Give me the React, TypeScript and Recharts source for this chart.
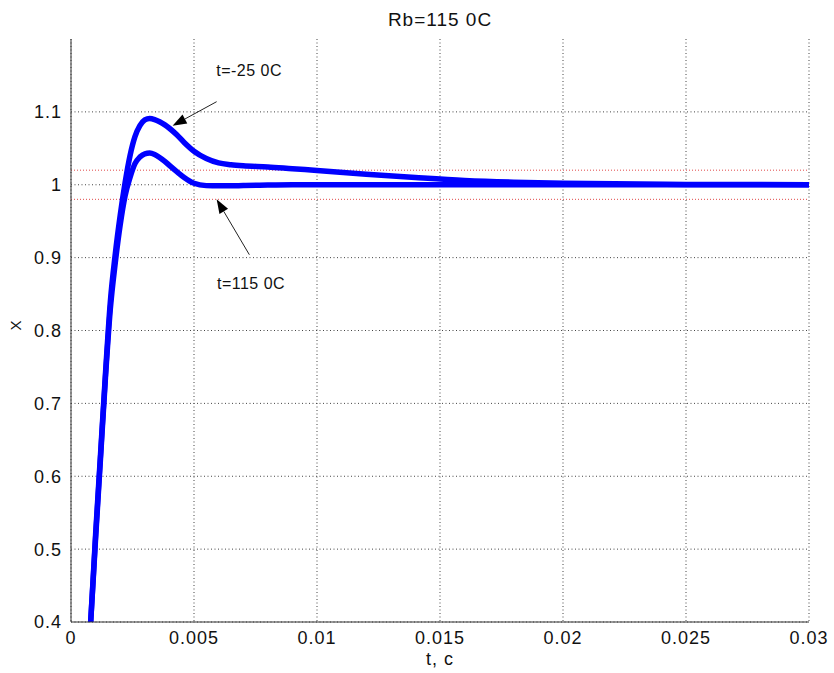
import {
  CartesianGrid,
  Line,
  LineChart,
  ReferenceDot,
  ReferenceLine,
  XAxis,
  YAxis,
} from "recharts";

// time, s
const tValues = [
  0.0007, 0.0008, 0.001, 0.0012, 0.0014, 0.0016, 0.0018, 0.002, 0.0022, 0.0024,
  0.0026, 0.0028, 0.003, 0.0032, 0.0034, 0.0036, 0.0038, 0.004, 0.0043, 0.0046,
  0.005, 0.0055, 0.006, 0.0065, 0.007, 0.008, 0.009, 0.01, 0.012, 0.014, 0.016,
  0.018, 0.02, 0.025, 0.03,
];
// t=-25 0C (upper curve)
const coldValues = [
  0.35, 0.4, 0.52, 0.63, 0.74, 0.84, 0.905, 0.958, 1.003, 1.04, 1.066, 1.081,
  1.089, 1.091, 1.0895, 1.0865, 1.0825, 1.0775, 1.0685, 1.058, 1.046, 1.036,
  1.03, 1.0275, 1.026, 1.0245, 1.022, 1.0196, 1.0145, 1.01, 1.006, 1.0035,
  1.002, 1.0005, 1.0,
];
// t=115 0C (lower curve)
const hotValues = [
  0.35, 0.4, 0.515, 0.625, 0.735, 0.83, 0.893, 0.945, 0.985, 1.01, 1.029, 1.038,
  1.0425, 1.0435, 1.0415, 1.0375, 1.0325, 1.0265, 1.018, 1.01, 1.002, 0.9988,
  0.9985, 0.9985, 0.999, 0.9995, 1.0, 1.0, 1.0, 1.0, 1.0, 1.0, 1.0, 1.0, 1.0,
];
const xTicks = [0, 0.005, 0.01, 0.015, 0.02, 0.025, 0.03];
const yTicks = [0.4, 0.5, 0.6, 0.7, 0.8, 0.9, 1, 1.1];
const bandLimits = [0.98, 1.02];

const data = tValues.map((t, i) => ({ t, cold: coldValues[i], hot: hotValues[i] }));

const FONT = "'Liberation Sans', Arial, sans-serif";

const Arrow = (p: any) => {
  const { x1, y1, x2, y2 } = p;
  const ang = Math.atan2(y2 - y1, x2 - x1);
  const len = 14;
  const half = 5;
  const bx = x2 - len * Math.cos(ang);
  const by = y2 - len * Math.sin(ang);
  const nx = -Math.sin(ang) * half;
  const ny = Math.cos(ang) * half;
  return (
    <g>
      <line x1={x1} y1={y1} x2={bx} y2={by} stroke="#222" strokeWidth={1} />
      <polygon
        points={`${x2},${y2} ${bx + nx},${by + ny} ${bx - nx},${by - ny}`}
        fill="#000"
      />
    </g>
  );
};

const note = (text: string) => (p: any) => (
  <text
    x={p.cx}
    y={p.cy}
    textAnchor="middle"
    dominantBaseline="central"
    fontFamily={FONT}
    fontSize={16}
    letterSpacing={0.5}
    fill="#111"
  >
    {text}
  </text>
);

const App = () => {
  return (
    <div style={{ position: "absolute", left: 0, top: 0, width: 834, height: 673, background: "#fff" }}>
      <div
        style={{
          position: "absolute",
          left: 71,
          width: 738,
          top: 10,
          textAlign: "center",
          fontFamily: FONT,
          fontSize: 19,
          lineHeight: "19px",
          letterSpacing: 1,
          color: "#111",
        }}
      >
        Rb=115 0C
      </div>
      <LineChart
        width={834}
        height={673}
        data={data}
        margin={{ top: 39, right: 25, bottom: 0, left: 0 }}
        style={{ fontFamily: FONT }}
      >
        <CartesianGrid
          stroke="#444"
          strokeDasharray="1 2.5"
          horizontalValues={yTicks}
          verticalValues={xTicks}
        />
        <XAxis
          dataKey="t"
          type="number"
          domain={[0, 0.03]}
          ticks={xTicks}
          height={51}
          tickSize={0}
          tickLine={false}
          tickMargin={9}
          stroke="#333"
          tick={{ fill: "#111", fontSize: 18, letterSpacing: 1 }}
          label={{ value: "t, c", position: "insideBottom", offset: 8, fill: "#111", fontSize: 18, letterSpacing: 1 }}
        />
        <YAxis
          type="number"
          domain={[0.4, 1.2]}
          allowDataOverflow
          ticks={yTicks}
          width={71}
          tickSize={0}
          tickLine={false}
          tickMargin={9}
          stroke="#333"
          tick={{ fill: "#111", fontSize: 18, letterSpacing: 1 }}
          label={{ value: "X", angle: -90, position: "insideLeft", offset: 16, fill: "#111", fontSize: 15 }}
        />
        {bandLimits.map((v) => (
          <ReferenceLine key={v} y={v} stroke="#e04848" strokeDasharray="1 2" strokeWidth={1} />
        ))}
        <Line
          dataKey="cold"
          type="monotone"
          stroke="#0000ff"
          strokeWidth={5.5}
          dot={false}
          isAnimationActive={false}
        />
        <Line
          dataKey="hot"
          type="monotone"
          stroke="#0000ff"
          strokeWidth={5.5}
          dot={false}
          isAnimationActive={false}
        />
        <ReferenceLine
          segment={[
            { x: 0.00592, y: 1.114 },
            { x: 0.00413, y: 1.081 },
          ]}
          shape={Arrow}
        />
        <ReferenceLine
          segment={[
            { x: 0.00725, y: 0.904 },
            { x: 0.00592, y: 0.98 },
          ]}
          shape={Arrow}
        />
        <ReferenceDot x={0.00724} y={1.157} r={0} shape={note("t=-25 0C")} />
        <ReferenceDot x={0.00732} y={0.865} r={0} shape={note("t=115 0C")} />
      </LineChart>
    </div>
  );
};

export default App;
